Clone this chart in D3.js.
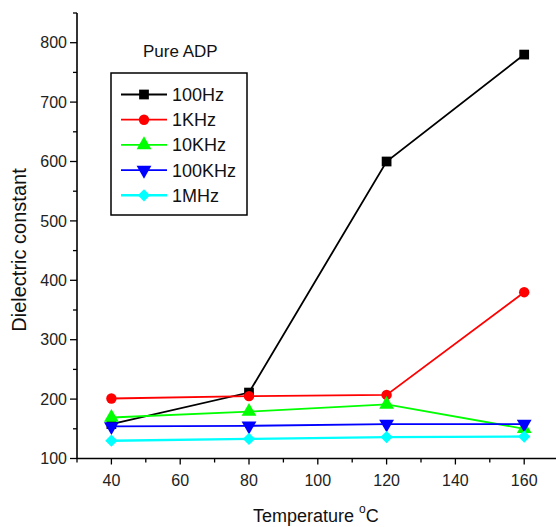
<!DOCTYPE html>
<html><head><meta charset="utf-8">
<script src="https://cdn.jsdelivr.net/npm/d3@7"></script>
<style>body{margin:0;background:#fff}svg{display:block;font-family:Arial,"Liberation Sans",sans-serif}</style>
</head><body><svg id="c" width="556" height="527"></svg>
<script>
const temps = [40, 80, 120, 160];
const seriesNames = ["100Hz", "1KHz", "10KHz", "100KHz", "1MHz"];
const v100Hz  = [158, 211, 600, 780];
const v1KHz   = [201, 205, 207, 380];
const v10KHz  = [169, 179, 191, 150];
const v100KHz = [154, 155, 158, 158];
const v1MHz   = [130, 133, 136, 137];
const xTicks = [40, 60, 80, 100, 120, 140, 160];
const yTicks = [100, 200, 300, 400, 500, 600, 700, 800];
const title = "Pure ADP";

const values = [v100Hz, v1KHz, v10KHz, v100KHz, v1MHz];
const colors = ["#000000", "#ff0000", "#00ff00", "#0000ff", "#00ffff"];
const shapes = [d3.symbolSquare, d3.symbolCircle, d3.symbolTriangle, d3.symbolTriangle, d3.symbolSquare];
const rotations = [0, 0, 0, 180, 45];
const sizes = [95, 85, 95, 95, 75];

const svg = d3.select("#c");
const x = d3.scaleLinear().domain([30, 170]).range([77, 558.6]);
const y = d3.scaleLinear().domain([100, 850]).range([458.5, 13]);

// axes
const xAxis = svg.append("g").attr("transform", "translate(0,458.5)");
xAxis.append("line").attr("x1", 77).attr("x2", 556).attr("stroke", "#000").attr("stroke-width", 1.6);
d3.range(30, 171, 10).forEach(t => {
  const major = xTicks.includes(t);
  xAxis.append("line").attr("x1", x(t)).attr("x2", x(t)).attr("y1", 0).attr("y2", major ? 6 : 4)
    .attr("stroke", "#000").attr("stroke-width", 1.3);
});
xTicks.forEach(t => {
  xAxis.append("text").attr("x", x(t)).attr("y", 27).attr("text-anchor", "middle")
    .attr("font-size", 16).attr("fill", "#222").text(t);
});
const yAxis = svg.append("g").attr("transform", "translate(77,0)");
yAxis.append("line").attr("y1", 13).attr("y2", 458.5).attr("stroke", "#000").attr("stroke-width", 1.6);
d3.range(100, 851, 50).forEach(t => {
  const major = yTicks.includes(t);
  yAxis.append("line").attr("x1", 0).attr("x2", major ? -7 : -4).attr("y1", y(t)).attr("y2", y(t))
    .attr("stroke", "#000").attr("stroke-width", 1.3);
});
yTicks.forEach(t => {
  yAxis.append("text").attr("x", -10).attr("y", y(t)).attr("dy", "0.36em").attr("text-anchor", "end")
    .attr("font-size", 16).attr("fill", "#222").text(t);
});

// axis titles
svg.append("text").attr("transform", "translate(26,250) rotate(-90)").attr("text-anchor", "middle")
  .attr("font-size", 20).attr("fill", "#111").text("Dielectric constant");
const xt = svg.append("text").attr("x", 253).attr("y", 522).attr("font-size", 18).attr("fill", "#111");
xt.append("tspan").text("Temperature ");
xt.append("tspan").attr("font-size", 12).attr("dy", -9).text("o");
xt.append("tspan").attr("dy", 9).text("C");

svg.append("text").attr("x", 143).attr("y", 57).attr("font-size", 17).attr("fill", "#111").text(title);

function sym(i) { return d3.symbol().type(shapes[i]).size(sizes[i])(); }
function rot(i) { return rotations[i] ? ` rotate(${rotations[i]})` : ""; }

const line = d3.line().x((d, j) => x(temps[j])).y(d => y(d));
values.forEach((vals, i) => {
  const g = svg.append("g");
  g.append("path").datum(vals).attr("d", line).attr("fill", "none")
    .attr("stroke", colors[i]).attr("stroke-width", i === 4 ? 2.4 : 1.8);
  g.selectAll("path.m").data(vals).enter().append("path").attr("class", "m")
    .attr("d", sym(i)).attr("fill", colors[i])
    .attr("transform", (d, j) => `translate(${x(temps[j])},${y(d)})${rot(i)}`);
});

// legend
const lg = svg.append("g");
lg.append("rect").attr("x", 111).attr("y", 73).attr("width", 136).attr("height", 142)
  .attr("fill", "#fff").attr("stroke", "#000").attr("stroke-width", 1.5);
seriesNames.forEach((n, i) => {
  const yy = 94.5 + i * 25.2;
  lg.append("line").attr("x1", 121).attr("x2", 167).attr("y1", yy).attr("y2", yy)
    .attr("stroke", colors[i]).attr("stroke-width", i === 4 ? 2.4 : 1.8);
  lg.append("path").attr("d", sym(i)).attr("fill", colors[i])
    .attr("transform", `translate(144,${yy})${rot(i)}`);
  lg.append("text").attr("x", 172).attr("y", yy).attr("dy", "0.36em").attr("font-size", 18)
    .attr("fill", "#111").text(n);
});
</script></body></html>
